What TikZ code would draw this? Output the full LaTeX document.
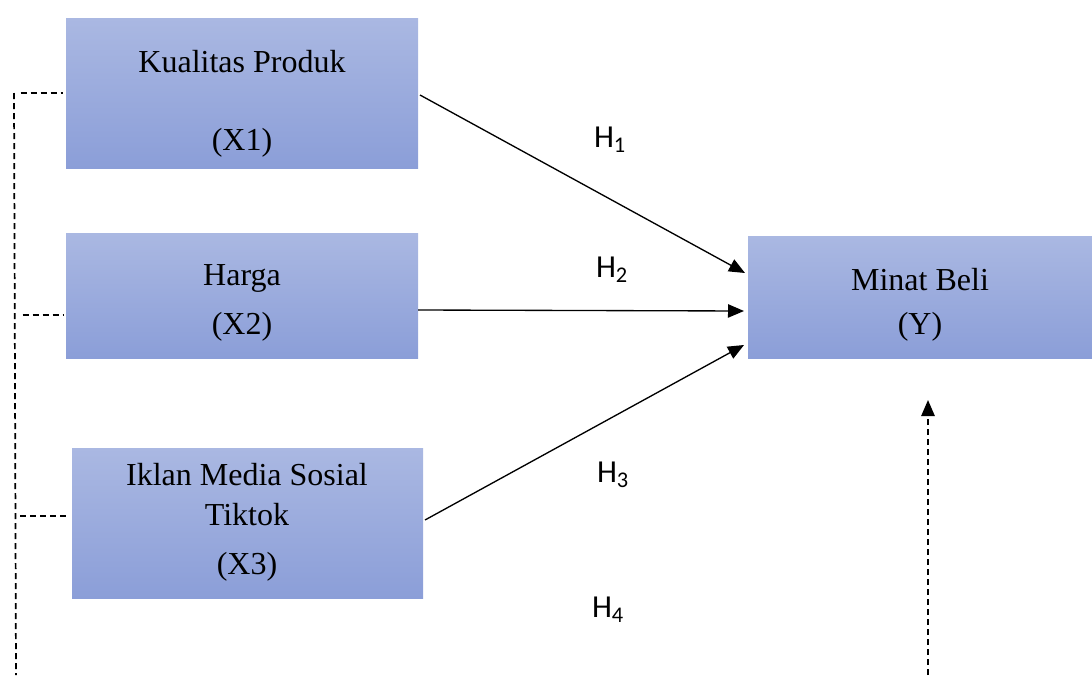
\documentclass[tikz,border=0pt]{standalone}
\usepackage{fontspec}
\setmainfont{Liberation Serif}
\newfontfamily\hfont{Carlito}
\usetikzlibrary{arrows.meta}
\definecolor{boxtop}{RGB}{170,184,226}
\definecolor{boxbot}{RGB}{139,158,216}
\begin{document}
\begin{tikzpicture}[x=0.75pt,y=-0.75pt,
  box/.style={draw=none, top color=boxtop, bottom color=boxbot, inner sep=0pt, minimum width=#1},
  box/.default=264pt,
  lbl/.style={font=\fontsize{24}{28}\selectfont, inner sep=0pt},
  hyp/.style={font=\hfont\fontsize{24}{28}\selectfont, inner sep=0pt},
  conn/.style={line width=1pt, -{Triangle[length=12pt,width=10pt]}},
  dsh/.style={line width=1.3pt, dash pattern=on 4.5pt off 3pt}]
\useasboundingbox (0,0) rectangle (1092,675);
% boxes
\node[box, minimum height=112.5pt] (x1) at (242,93) {};
\node[box, minimum height=93.75pt] (x2) at (242,295.5) {};
\node[box=263.25pt, minimum height=112.5pt] (x3) at (247.5,523) {};
\node[box=258pt, minimum height=91.5pt] (y) at (920,297) {};
% texts
\node[lbl] (t1a) at (242,62) {Kualitas Produk};
\node[lbl] (t1b) at (242,143) {(X1)};
\node[lbl] (t2a) at (242,278) {Harga};
\node[lbl] (t2b) at (242,327) {(X2)};
\node[lbl] (t3a) at (247,475) {Iklan Media Sosial};
\node[lbl] (t3b) at (247,515) {Tiktok};
\node[lbl] (t3c) at (247,567) {(X3)};
\node[lbl] (tya) at (920,280) {Minat Beli};
\node[lbl] (tyb) at (920,327) {(Y)};
% hypothesis labels
\node[hyp] (h1) at (610,140) {H\textsubscript{1}};
\node[hyp] (h2) at (612,270) {H\textsubscript{2}};
\node[hyp] (h3) at (613,475) {H\textsubscript{3}};
\node[hyp] (h4) at (608,610) {H\textsubscript{4}};
% coordinates
\coordinate (s1) at (420,95);
\coordinate (s2) at (418,310);
\coordinate (s3) at (425,520);
\coordinate (e1) at (745,273);
\coordinate (e2) at (744,311);
\coordinate (e3) at (744,345);
\coordinate (lt) at (14,93);
\coordinate (lb) at (16,675);
\coordinate (l1) at (63,93);
\coordinate (l2a) at (16,315);
\coordinate (l2) at (63,315);
\coordinate (l3a) at (16,516);
\coordinate (l3) at (70,516);
\coordinate (rb) at (928,675);
\coordinate (rt) at (928,400);
% connectors
\draw[conn] (s1) -- (e1);
\draw[conn] (s2) -- (e2);
\draw[conn] (s3) -- (e3);
\draw[dsh] (lt) -- (lb);
\draw[dsh] ([xshift=5pt]lt) -- (l1);
\draw[dsh] ([xshift=5pt]l2a) -- (l2);
\draw[dsh] ([xshift=3pt]l3a) -- (l3);
\draw[dsh, -{Triangle[length=12pt,width=10pt]}] (rb) -- (rt);
\end{tikzpicture}
\end{document}
